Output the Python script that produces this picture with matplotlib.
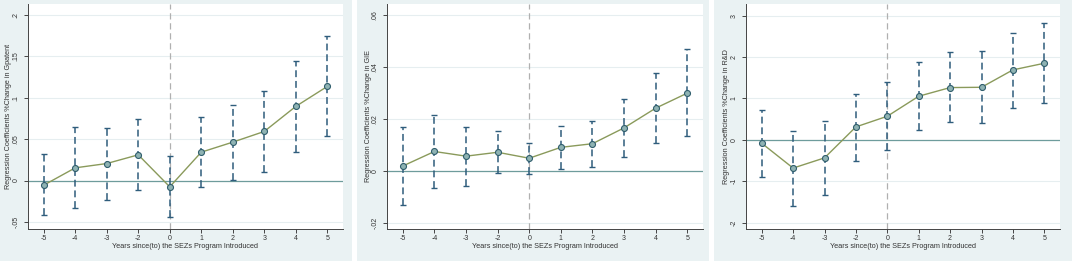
import numpy as np
import matplotlib
matplotlib.use("Agg")
import matplotlib.pyplot as plt
from matplotlib.patches import Rectangle

plt.rcParams["font.family"] = ["Liberation Sans", "DejaVu Sans"]

years = ["-5", "-4", "-3", "-2", "0", "1", "2", "3", "4", "5"]

# Gpatent
gp_coef = [-0.0056, 0.0153, 0.0205, 0.031, -0.0076, 0.0342, 0.0463, 0.0592, 0.0894, 0.1135]
gp_hi = [0.0318, 0.0644, 0.0636, 0.074, 0.0298, 0.0765, 0.091, 0.108, 0.144, 0.174]
gp_lo = [-0.042, -0.0334, -0.023, -0.0117, -0.0439, -0.008, 0.0012, 0.010, 0.0342, 0.054]

# GIE
gie_coef = [0.0019, 0.0075, 0.0057, 0.0072, 0.0049, 0.0091, 0.0105, 0.0166, 0.0242, 0.030]
gie_hi = [0.017, 0.0216, 0.017, 0.0155, 0.0109, 0.0173, 0.0194, 0.0279, 0.0376, 0.0469]
gie_lo = [-0.0131, -0.0064, -0.0058, -0.0009, -0.0012, 0.0008, 0.0015, 0.0053, 0.0109, 0.0134]

# R&D
rd_coef = [-0.08, -0.68, -0.434, 0.314, 0.571, 1.054, 1.263, 1.27, 1.69, 1.85]
rd_hi = [0.716, 0.217, 0.45, 1.118, 1.4, 1.88, 2.116, 2.156, 2.59, 2.82]
rd_lo = [-0.89, -1.585, -1.335, -0.507, -0.25, 0.233, 0.44, 0.418, 0.78, 0.893]

W, H = 1072, 261
fig = plt.figure(figsize=(W / 100, H / 100), dpi=100)
fig.patch.set_facecolor("white")

bg = "#eaf2f3"
line_c = "#8a9a5b"
ci_c = "#2f5d7c"
zero_c = "#6e9c9c"

panels = [
    dict(bx=(0, 352), ax=(28, 343), coef=gp_coef, hi=gp_hi, lo=gp_lo,
         ylim=(-0.0585, 0.213), ticks=[-0.05, 0, 0.05, 0.1, 0.15, 0.2],
         tlabels=["-.05", "0", ".05", ".1", ".15", ".2"],
         ylabel="Regression Coefficients %Change in Gpatent"),
    dict(bx=(357, 709), ax=(387, 703), coef=gie_coef, hi=gie_hi, lo=gie_lo,
         ylim=(-0.0224, 0.0644), ticks=[-0.02, 0, 0.02, 0.04, 0.06],
         tlabels=["-.02", "0", ".02", ".04", ".06"],
         ylabel="Regression Coefficients %Change in GIE"),
    dict(bx=(714, 1072), ax=(746, 1060), coef=rd_coef, hi=rd_hi, lo=rd_lo,
         ylim=(-2.15, 3.28), ticks=[-2, -1, 0, 1, 2, 3],
         tlabels=["-2", "-1", "0", "1", "2", "3"],
         ylabel="Regression Coefficients %Change in R&D"),
]

top, bottom = 4, 229
for p in panels:
    x0, x1 = p["bx"]
    fig.patches.append(Rectangle((x0 / W, 0), (x1 - x0) / W, 1,
                                 transform=fig.transFigure, facecolor=bg,
                                 edgecolor="none", zorder=-5))
    a0, a1 = p["ax"]
    ax = fig.add_axes([a0 / W, 1 - bottom / H, (a1 - a0) / W, (bottom - top) / H])
    ax.set_facecolor("white")
    x = np.arange(len(years))
    ax.set_xlim(-0.5, 9.5)
    ax.set_ylim(*p["ylim"])
    for t in p["ticks"]:
        ax.axhline(t, color="#e6eef0", lw=0.8, zorder=0)
    ax.axhline(0, color=zero_c, lw=0.9, zorder=1)
    ax.axvline(4, color="#b0b0b0", lw=0.9, ls=(0, (5, 3)), zorder=1)
    coef = np.array(p["coef"])
    err = [coef - np.array(p["lo"]), np.array(p["hi"]) - coef]
    eb = ax.errorbar(x, coef, yerr=err, fmt="none", ecolor=ci_c, elinewidth=1.1,
                     capsize=2, capthick=1.0, zorder=2)
    eb[2][0].set_linestyle((0, (4.5, 2.5)))
    ax.plot(x, coef, color=line_c, lw=1.0, zorder=3)
    ax.plot(x, coef, "o", ms=4.3, mfc="#8fb3b3", mec="#2f5d6c", mew=0.8, zorder=4)
    ax.set_xticks(x)
    ax.set_xticklabels(years)
    ax.set_yticks(p["ticks"])
    ax.set_yticklabels(p["tlabels"], rotation=90, va="center")
    ax.tick_params(labelsize=5.0, length=3, width=0.7, color="#444444",
                   labelcolor="#333333")
    ax.tick_params(axis="x", pad=1.5)
    ax.tick_params(axis="y", pad=3)
    for s in ["top", "right"]:
        ax.spines[s].set_visible(False)
    for s in ["left", "bottom"]:
        ax.spines[s].set_color("#444444")
        ax.spines[s].set_linewidth(0.7)
    ax.set_xlabel("Years since(to) the SEZs Program Introduced", fontsize=5.2,
                  color="#333333", va="center")
    ax.set_ylabel(p["ylabel"], fontsize=5.2, color="#333333", va="center")
    ax.xaxis.set_label_coords(0.5, -18 / (bottom - top))
    ax.yaxis.set_label_coords(-19 / (a1 - a0), 0.5)

fig.savefig("out.png", dpi=100)
